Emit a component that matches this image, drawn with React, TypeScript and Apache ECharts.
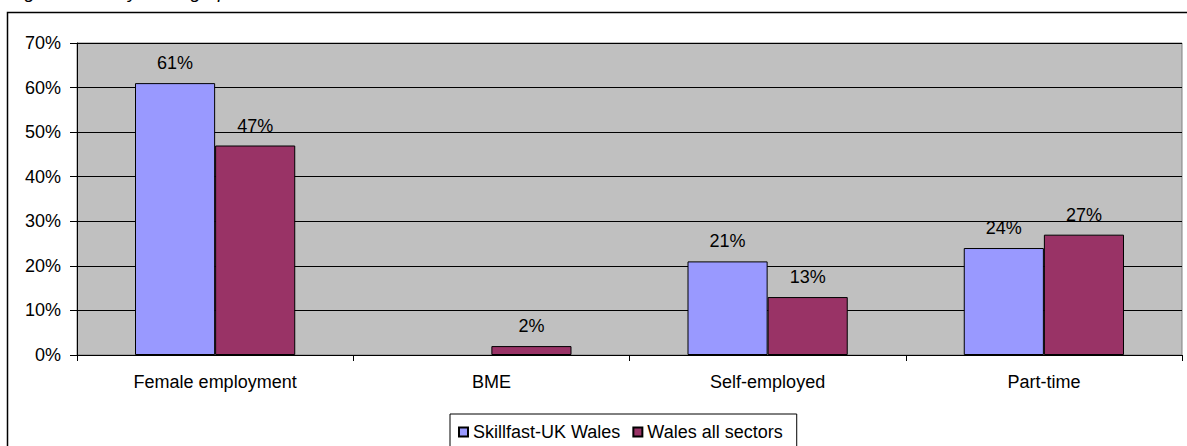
import React, { useEffect, useRef } from "react";
import * as echarts from "echarts";

const categories = ["Female employment", "BME", "Self-employed", "Part-time"];
const skillfastValues: (number | null)[] = [61, null, 21, 24];
const walesValues: (number | null)[] = [47, 2, 13, 27];
const seriesNames = ["Skillfast-UK Wales", "Wales all sectors"];
const titleText = "Figure 3.1: Key demographics";

const FONT = "'Liberation Sans', Arial, sans-serif";

export default function App() {
  const ref = useRef<HTMLDivElement>(null);
  useEffect(() => {
    if (!ref.current) return;
    const chart = echarts.init(ref.current, undefined, { renderer: "svg" });
    const label = {
      show: true,
      position: "top" as const,
      distance: 11,
      color: "#000",
      fontSize: 18,
      fontFamily: FONT,
      formatter: (p: any) => (p.value == null ? "" : p.value + "%"),
    };
    chart.setOption({
      animation: false,
      backgroundColor: "#fff",
      textStyle: { fontFamily: FONT },
      graphic: [
        {
          type: "rect",
          shape: { x: 7.5, y: 12.5, width: 1200, height: 460 },
          style: { fill: "none", stroke: "#000", lineWidth: 1.5 },
          silent: true,
          z: -1,
        },
        {
          type: "text",
          x: 9,
          y: 1,
          style: {
            text: titleText,
            fontSize: 19,
            fontStyle: "italic",
            fontFamily: FONT,
            fill: "#000",
            verticalAlign: "bottom",
          },
        },
      ],
      grid: {
        left: 77,
        right: 5,
        top: 43,
        bottom: 91,
        show: true,
        backgroundColor: "#C0C0C0",
        borderColor: "#808080",
        borderWidth: 1,
      },
      legend: {
        data: seriesNames,
        left: 450,
        top: 414,
        orient: "horizontal",
        borderColor: "#000",
        borderWidth: 1,
        padding: [9, 14, 14, 8],
        itemWidth: 9,
        itemHeight: 9,
        itemGap: 12,
        icon: "rect",
        textStyle: { fontSize: 18, color: "#000", fontFamily: FONT },
      },
      xAxis: {
        type: "category",
        data: categories,
        axisLine: { show: true, lineStyle: { color: "#000", width: 1 } },
        axisTick: { show: true, alignWithLabel: false, length: 6, lineStyle: { color: "#000" } },
        axisLabel: { color: "#000", fontSize: 18, fontFamily: FONT, margin: 18 },
        splitLine: { show: false },
      },
      yAxis: {
        type: "value",
        min: 0,
        max: 70,
        interval: 10,
        axisLine: { show: true, lineStyle: { color: "#000", width: 1 } },
        axisTick: { show: true, length: 7, lineStyle: { color: "#000" } },
        axisLabel: { color: "#000", fontSize: 18, fontFamily: FONT, margin: 16, formatter: "{value}%" },
        splitLine: { show: true, lineStyle: { color: "#000", width: 1 } },
      },
      series: [
        {
          name: seriesNames[0],
          type: "bar",
          data: skillfastValues,
          barGap: "0%",
          barCategoryGap: "42%",
          itemStyle: { color: "#9999FF", borderColor: "#000", borderWidth: 1 },
          label,
        },
        {
          name: seriesNames[1],
          type: "bar",
          data: walesValues,
          barGap: "0%",
          barCategoryGap: "42%",
          itemStyle: { color: "#993366", borderColor: "#000", borderWidth: 1 },
          label,
        },
      ],
    });
    return () => chart.dispose();
  }, []);
  return (
    <div
      ref={ref}
      style={{ position: "fixed", left: 0, top: 0, width: 1187, height: 446 }}
    />
  );
}
